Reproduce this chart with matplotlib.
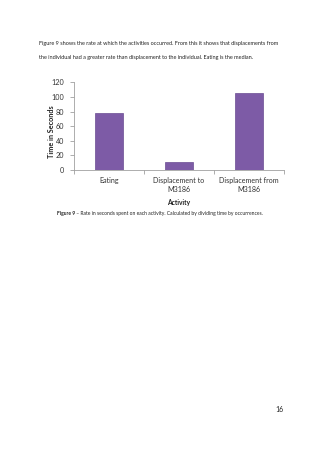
import matplotlib
matplotlib.use("Agg")
import matplotlib.pyplot as plt

plt.rcParams["font.family"] = ["Lato", "DejaVu Sans"]

# Chart data
activities = ["Eating", "Displacement to\nM3186", "Displacement from\nM3186"]
rate_seconds = [78, 11, 105]
y_ticks = [0, 20, 40, 60, 80, 100, 120]

para_lines = [
    "Figure 9 shows the rate at which the activities occurred. From this it shows that displacements from",
    "the individual had a greater rate than displacement to the individual. Eating is the median.",
]
caption_rest = " \u2013 Rate in seconds spent on each activity. Calculated by dividing time by occurrences."

fig = plt.figure(figsize=(3.2, 4.53), dpi=100)
W, H = 320, 453

# paragraph text above the chart
fig.text(39 / W, 1 - 43 / H, para_lines[0], fontsize=3.95, va="center", ha="left", color="#222222")
fig.text(39 / W, 1 - 57 / H, para_lines[1], fontsize=3.95, va="center", ha="left", color="#222222")

ax = fig.add_axes([74 / W, 1 - 170 / H, 210 / W, 87.7 / H])
x = list(range(len(activities)))
ax.bar(x, rate_seconds, width=0.41, color="#7d5ba6", edgecolor="#6a4c92", linewidth=0.5, zorder=3)

ax.set_xlim(-0.5, 2.5)
ax.set_ylim(0, 120)
ax.set_yticks(y_ticks)
ax.set_yticklabels([str(v) for v in y_ticks], fontsize=5.2, color="#333333")
ax.set_xticks(x)
ax.set_xticklabels(activities, fontsize=5.1, color="#333333", linespacing=1.35)
ax.set_xticks([-0.5, 0.5, 1.5, 2.5], minor=True)
ax.tick_params(axis="x", which="major", length=0, pad=5)
ax.tick_params(axis="x", which="minor", length=3, color="#a0a0a0", width=0.6)
ax.tick_params(axis="y", length=3, color="#a0a0a0", width=0.6, pad=4)

for side in ["top", "right"]:
    ax.spines[side].set_visible(False)
for side in ["left", "bottom"]:
    ax.spines[side].set_color("#a0a0a0")
    ax.spines[side].set_linewidth(0.6)

ax.set_ylabel("Time in Seconds", fontsize=5.2, fontweight="bold", color="#222222")
ax.yaxis.set_label_coords(-0.09, 0.44)
ax.set_xlabel("Activity", fontsize=4.8, fontweight="bold", color="#222222", labelpad=4.5)

# caption below the chart
cap = fig.text(57 / W, 1 - 214 / H, "Figure 9", fontsize=3.6, fontweight="bold", va="center", ha="left", color="#222222")
fig.canvas.draw()
bb = cap.get_window_extent()
fig.text(bb.x1 / W, 1 - 214 / H, caption_rest, fontsize=3.6, va="center", ha="left", color="#222222")

# page number
fig.text(279 / W, 1 - 409 / H, "16", fontsize=5, va="center", ha="center", color="#222222")

fig.savefig("out.png", dpi=100)
